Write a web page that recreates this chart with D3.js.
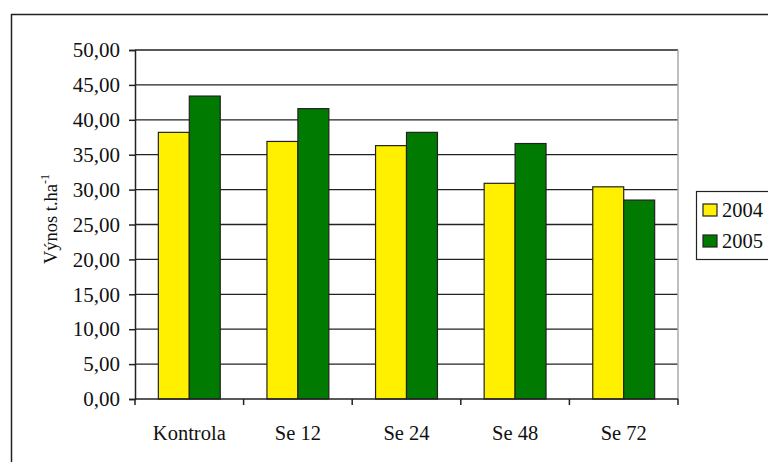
<!DOCTYPE html>
<html>
<head>
<meta charset="utf-8">
<script src="https://cdn.jsdelivr.net/npm/d3@7"></script>
</head>
<body style="margin:0;background:#fff">
<svg id="chart" width="768" height="462"></svg>
<script>
// Yield per treatment, two seasons
const categories = ["Kontrola", "Se 12", "Se 24", "Se 48", "Se 72"];
const years = ["2004", "2005"];
const values2004 = [38.2, 36.9, 36.3, 30.9, 30.4];
const values2005 = [43.4, 41.6, 38.2, 36.6, 28.5];
const yTicks = [0, 5, 10, 15, 20, 25, 30, 35, 40, 45, 50];
const colors = ["#FFF000", "#007A00"];

const FONT = "Liberation Serif";
const INK = "#111";

const svg = d3.select("#chart");
const plot = { left: 135, right: 678, top: 50, bottom: 399 };

// all labels use a Times-like serif face
const label = sel => sel
  .attr("font-family", FONT)
  .style("font-family", FONT, "important")
  .style("fill", INK);

// outer chart frame
svg.append("rect")
  .attr("x", 11.5).attr("y", 14.5)
  .attr("width", 800).attr("height", 500)
  .attr("fill", "none").attr("stroke", "#222").attr("stroke-width", 1.5);

const x0 = d3.scaleBand().domain(categories).range([plot.left, plot.right]).paddingInner(0.43).paddingOuter(0.215);
const x1 = d3.scaleBand().domain(years).range([0, x0.bandwidth()]);
const y = d3.scaleLinear().domain([0, 50]).range([plot.bottom, plot.top]);
const fmt = v => d3.format(".2f")(v).replace(".", ",");

// horizontal gridlines
svg.append("g").selectAll("line").data(yTicks.filter(d => d > 0)).join("line")
  .attr("x1", plot.left).attr("x2", plot.right)
  .attr("y1", d => y(d)).attr("y2", d => y(d))
  .attr("stroke", "#222").attr("stroke-width", 1.3);

// right edge of plot area
svg.append("line")
  .attr("x1", plot.right).attr("x2", plot.right)
  .attr("y1", plot.top).attr("y2", plot.bottom)
  .attr("stroke", "#aaa").attr("stroke-width", 1.5);

// bars
const rows = categories.map((c, i) => ({ cat: c, vals: [values2004[i], values2005[i]] }));
const groups = svg.append("g").selectAll("g").data(rows).join("g")
  .attr("transform", d => `translate(${x0(d.cat)},0)`);
groups.selectAll("rect").data(d => d.vals.map((v, j) => ({ year: years[j], v, j }))).join("rect")
  .attr("x", d => x1(d.year))
  .attr("y", d => y(d.v))
  .attr("width", x1.bandwidth())
  .attr("height", d => y(0) - y(d.v))
  .attr("fill", d => colors[d.j])
  .attr("stroke", "#222").attr("stroke-width", 1.2);

// y axis
const yAxis = svg.append("g").attr("transform", `translate(${plot.left},0)`)
  .call(d3.axisLeft(y).tickValues(yTicks).tickFormat(fmt).tickSize(6).tickPadding(9));
yAxis.attr("font-family", FONT);
yAxis.selectAll("path, line").attr("stroke", "#222").attr("stroke-width", 1.5);
yAxis.selectAll("text").call(label).style("font-size", "21px");

// x axis: ticks between categories
const xAxisG = svg.append("g");
xAxisG.append("line")
  .attr("x1", plot.left).attr("x2", plot.right)
  .attr("y1", plot.bottom).attr("y2", plot.bottom)
  .attr("stroke", "#222").attr("stroke-width", 1.5);
const step = (plot.right - plot.left) / categories.length;
xAxisG.selectAll("line.tk").data(d3.range(categories.length + 1)).join("line")
  .attr("class", "tk")
  .attr("x1", i => plot.left + i * step).attr("x2", i => plot.left + i * step)
  .attr("y1", plot.bottom).attr("y2", plot.bottom + 6)
  .attr("stroke", "#222").attr("stroke-width", 1.5);
xAxisG.selectAll("text").data(categories).join("text")
  .attr("x", d => x0(d) + x0.bandwidth() / 2)
  .attr("y", 440)
  .attr("text-anchor", "middle")
  .call(label).style("font-size", "20.5px")
  .text(d => d);

// y axis title
const yt = svg.append("text")
  .attr("transform", "translate(57,219) rotate(-90)")
  .attr("text-anchor", "middle")
  .call(label).style("font-size", "18.5px");
yt.append("tspan").text("Výnos t.ha");
yt.append("tspan").style("font-size", "12px").attr("dy", -8).text("-1");

// legend
const lg = svg.append("g");
lg.append("rect").attr("x", 696.5).attr("y", 191.5).attr("width", 100).attr("height", 68)
  .attr("fill", "#fff").attr("stroke", "#222").attr("stroke-width", 1.2);
const items = lg.selectAll("g").data(years).join("g")
  .attr("transform", (d, i) => `translate(703,${204 + i * 31})`);
items.append("rect").attr("width", 14).attr("height", 12)
  .attr("fill", (d, i) => colors[i]).attr("stroke", "#222").attr("stroke-width", 1.2);
items.append("text").attr("x", 19).attr("y", 13)
  .call(label).style("font-size", "20.5px")
  .text(d => d);
</script>
</body>
</html>
